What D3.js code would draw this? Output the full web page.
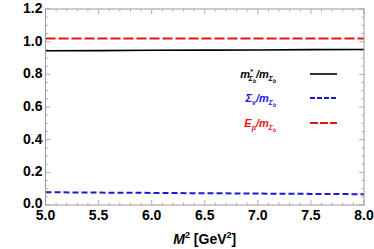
<!DOCTYPE html>
<html>
<head>
<meta charset="utf-8">
<script src="https://cdn.jsdelivr.net/npm/d3@7"></script>
<style>
  body { margin: 0; background: #fff; }
  svg { display: block; font-family: "Liberation Sans", Arial, sans-serif; }
</style>
</head>
<body>
<svg id="chart" width="374" height="249"></svg>
<script>
// data
const m2 = [5.0, 5.5, 6.0, 6.5, 7.0, 7.5, 8.0]
const mStar = [0.944, 0.945, 0.947, 0.948, 0.949, 0.951, 0.952]
const sigmaV = [0.078, 0.076, 0.074, 0.072, 0.070, 0.068, 0.066]
const eP = [1.020, 1.020, 1.020, 1.020, 1.020, 1.020, 1.020]
const xTicks = [5.0, 5.5, 6.0, 6.5, 7.0, 7.5, 8.0]
const yTicks = [0.0, 0.2, 0.4, 0.6, 0.8, 1.0, 1.2]

const MARGINS = { top: 9, left: 45.5, bottom: 44, right: 10 }
const W = 374, H = 249
const width = W - MARGINS.left - MARGINS.right
const height = H - MARGINS.top - MARGINS.bottom

const svg = d3.select('#chart')
const g = svg.append('g').attr('transform', 'translate(' + [MARGINS.left, MARGINS.top] + ')')

const x = d3.scaleLinear().domain([5, 8]).range([0, width])
const y = d3.scaleLinear().domain([0, 1.2]).range([height, 0])

const fmt = d3.format('.1f')
const frame = '#9a9a9a'

// ticks on all four sides, pointing inward
const xMinor = d3.range(50, 81).map((d) => d / 10)
const yMinor = d3.range(0, 25).map((d) => d / 20)

function isMajor(v, list) { return list.some((t) => Math.abs(t - v) < 1e-6) }

const ticks = g.append('g').attr('stroke', frame).attr('stroke-width', 0.8)
xMinor.forEach((v) => {
  let len = isMajor(v, xTicks) ? 5 : 2.5
  ticks.append('line').attr('x1', x(v)).attr('x2', x(v)).attr('y1', height).attr('y2', height - len)
  ticks.append('line').attr('x1', x(v)).attr('x2', x(v)).attr('y1', 0).attr('y2', len)
})
yMinor.forEach((v) => {
  let len = isMajor(v, yTicks) ? 5 : 2.5
  ticks.append('line').attr('y1', y(v)).attr('y2', y(v)).attr('x1', 0).attr('x2', len)
  ticks.append('line').attr('y1', y(v)).attr('y2', y(v)).attr('x1', width).attr('x2', width - len)
})

// tick labels
g.append('g').attr('font-size', 14).attr('font-weight', 'bold').attr('text-anchor', 'middle')
  .selectAll('text').data(xTicks).join('text')
  .attr('x', (d) => x(d)).attr('y', height + 15)
  .text(fmt)
g.append('g').attr('font-size', 14).attr('font-weight', 'bold').attr('text-anchor', 'end')
  .selectAll('text').data(yTicks).join('text')
  .attr('x', -3).attr('y', (d) => y(d) + (d === 0 ? 2.5 : 4))
  .text(fmt)

// series
const line = (vals) => d3.line().x((d, i) => x(m2[i])).y((d) => y(d))(vals)
const series = [
  { vals: mStar, color: '#000000', dash: null, width: 1.6 },
  { vals: sigmaV, color: '#1a1adc', dash: '6,3', width: 2 },
  { vals: eP, color: '#ee1111', dash: '10,3', width: 2 }
]
series.forEach((s) => {
  g.append('path').attr('d', line(s.vals)).attr('fill', 'none')
    .attr('stroke', s.color).attr('stroke-width', s.width)
    .attr('stroke-dasharray', s.dash)
})

// frame
g.append('rect').attr('width', width).attr('height', height)
  .attr('fill', 'none').attr('stroke', frame).attr('stroke-width', 1)

// axis label
const xl = svg.append('text').attr('x', MARGINS.left + width / 2).attr('y', 244)
  .attr('text-anchor', 'middle').attr('font-size', 14).attr('font-weight', 'bold')
xl.append('tspan').attr('font-style', 'italic').text('M')
xl.append('tspan').attr('font-size', 9).attr('dy', -6).text('2')
xl.append('tspan').attr('dy', 6).text(' [GeV')
xl.append('tspan').attr('font-size', 9).attr('dy', -6).text('2')
xl.append('tspan').attr('dy', 6).text(']')

// legend: [text, baseline offset, font size, dx]
const rows = [
  { y: 74, color: '#000000', parts: [['m', 0, 11], ['*', -4, 7], ['Σ', 3, 7, -4], ['b', 5, 5], ['/m', 0, 11], ['Σ', 3, 7], ['b', 5, 5]] },
  { y: 98, color: '#1a1adc', parts: [['Σ', 0, 11], ['v', 3, 7], ['/m', 0, 11], ['Σ', 3, 7], ['b', 5, 5]] },
  { y: 123, color: '#ee1111', parts: [['E', 0, 11], ['p', 3, 7], ['/m', 0, 11], ['Σ', 3, 7], ['b', 5, 5]] }
]
const legend = svg.append('g').attr('font-weight', 'bold').attr('font-style', 'italic')
rows.forEach((r, i) => {
  let t = legend.append('text').attr('x', 276).attr('y', r.y + 4).attr('text-anchor', 'end').attr('fill', r.color)
  let base = 0
  r.parts.forEach((p) => {
    let ts = t.append('tspan').attr('dy', p[1] - base).attr('font-size', p[2]).text(p[0])
    if (p[3]) ts.attr('dx', p[3])
    base = p[1]
  })
  let s = series[i]
  legend.append('line').attr('x1', 310).attr('x2', 337).attr('y1', r.y).attr('y2', r.y)
    .attr('stroke', s.color).attr('stroke-width', s.width)
    .attr('stroke-dasharray', i === 1 ? '5,2' : i === 2 ? '8,2' : null)
})
</script>
</body>
</html>
